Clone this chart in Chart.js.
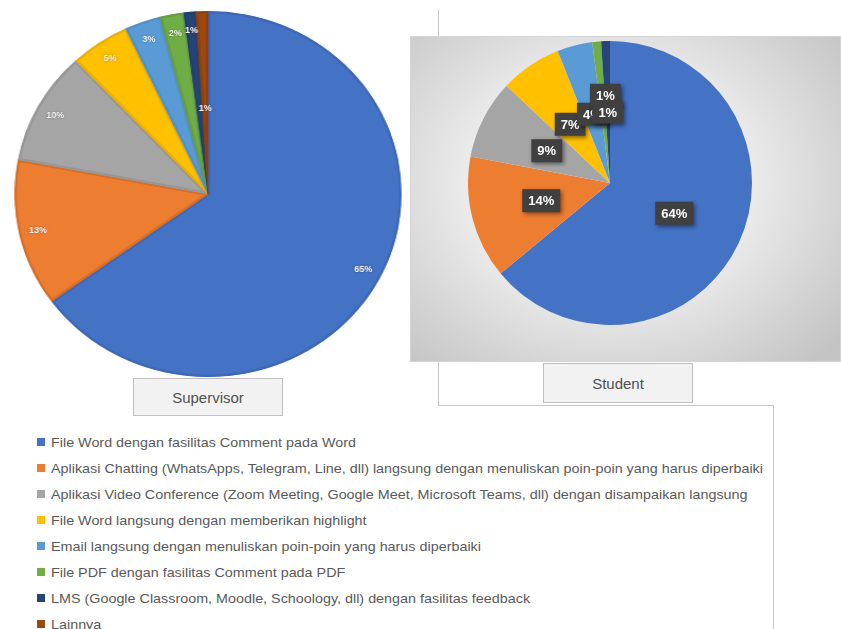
<!DOCTYPE html>
<html>
<head>
<meta charset="utf-8">
<script src="https://cdn.jsdelivr.net/npm/chart.js@4.4.0/dist/chart.umd.min.js"></script>
<style>
    body { margin: 0; width: 841px; height: 629px; background: #fff; position: relative; overflow: hidden;
           font-family: "Liberation Sans", Arial, sans-serif; }
    .abs { position: absolute; }
    .rule { position: absolute; background: #c8c8c8; }
    .caption { position: absolute; background: #f2f2f2; border: 1px solid #bfbfbf; box-sizing: border-box;
               color: #505050; font-size: 15px; display: flex; align-items: center; justify-content: center; }
    #student-frame { left: 410px; top: 36px; width: 431px; height: 326px; box-sizing: border-box;
                     border: 1px solid #d4d4d4;
                     background: radial-gradient(ellipse 70% 75% at 46% 45%, #ffffff 0%, #f4f4f4 35%, #c4c4c4 100%); }
    /* the supervisor pie is shown a little wider than tall */
    #supervisor-chart { transform: scaleX(1.058); transform-origin: center center; }
    #legend { left: 37px; top: 429px; }
    .item { height: 26px; display: flex; align-items: center; white-space: nowrap; }
    .swatch { width: 8px; height: 8px; margin-right: 6px; flex: none; }
    .txt { display: inline-block; transform-origin: left center; color: #595959;
           font-family: "Liberation Sans Narrow", "Liberation Sans", sans-serif; font-size: 13.5px; }
</style>
</head>
<body>
<div class="rule" style="left:438px;top:10px;width:1px;height:27px"></div>
<div class="rule" style="left:438px;top:362px;width:1px;height:43px"></div>
<div class="rule" style="left:438px;top:405px;width:336px;height:1px"></div>
<div class="rule" style="left:773px;top:405px;width:1px;height:224px"></div>

<div id="student-frame" class="abs"></div>

<canvas id="supervisor-chart" class="abs" width="366" height="366" style="left:25px;top:11px"></canvas>
<canvas id="student-chart" class="abs" width="284" height="284" style="left:468px;top:41px"></canvas>

<div class="caption" style="left:133px;top:378px;width:150px;height:38px">Supervisor</div>
<div class="caption" style="left:543px;top:363px;width:150px;height:40px">Student</div>

<div id="legend" class="abs"></div>

<script>
// Feedback channels (legend order = slice order, clockwise from 12 o'clock)
const categories = [
    'File Word dengan fasilitas Comment pada Word',
    'Aplikasi Chatting (WhatsApps, Telegram, Line, dll) langsung dengan menuliskan poin-poin yang harus diperbaiki',
    'Aplikasi Video Conference (Zoom Meeting, Google Meet, Microsoft Teams, dll) dengan disampaikan langsung',
    'File Word langsung dengan memberikan highlight',
    'Email langsung dengan menuliskan poin-poin yang harus diperbaiki',
    'File PDF dengan fasilitas Comment pada PDF',
    'LMS (Google Classroom, Moodle, Schoology, dll) dengan fasilitas feedback',
    'Lainnya'
];

// Percent shares
const supervisorValues = [65, 13, 10, 5, 3, 2, 1, 1];
const studentValues = [64, 14, 9, 7, 4, 1, 1, 0];

const sliceColors = ['#4472c4', '#ed7d31', '#a5a5a5', '#ffc000', '#5b9bd5', '#70ad47', '#264478', '#9e480e'];
const sliceEdges = ['#3e68b3', '#d86e27', '#979797', '#e9af06', '#5290c8', '#669e40', '#22406f', '#8e400c'];

// Draws "NN%" on each slice; radius is a fraction of the outer radius
const sliceLabels = {
    id: 'sliceLabels',
    afterDatasetsDraw(chart, args, opts) {
        const ctx = chart.ctx;
        const meta = chart.getDatasetMeta(0);
        const values = chart.data.datasets[0].data;
        const total = values.reduce((a, b) => a + b, 0);
        ctx.save();
        meta.data.forEach((arc, i) => {
            if (!values[i]) return;
            const p = arc.getProps(['x', 'y', 'startAngle', 'endAngle', 'outerRadius'], true);
            const mid = (p.startAngle + p.endAngle) / 2;
            const f = (opts.radiusAt && opts.radiusAt[i] != null) ? opts.radiusAt[i] : opts.radius;
            const shift = (opts.nudge && opts.nudge[i]) || [0, 0];
            const x = p.x + Math.cos(mid) * p.outerRadius * f + shift[0];
            const y = p.y + Math.sin(mid) * p.outerRadius * f + shift[1];
            const text = Math.round(values[i] / total * 100) + '%';
            ctx.font = opts.font;
            ctx.textAlign = 'center';
            ctx.textBaseline = 'middle';
            if (opts.boxed) {
                const w = ctx.measureText(text).width + 12;
                const h = 23;
                ctx.save();
                ctx.shadowColor = 'rgba(0,0,0,0.45)';
                ctx.shadowBlur = 4;
                ctx.shadowOffsetX = 2;
                ctx.shadowOffsetY = 2;
                ctx.fillStyle = '#404040';
                ctx.fillRect(x - w / 2, y - h / 2, w, h);
                ctx.restore();
            } else {
                ctx.shadowColor = 'rgba(0,0,0,0.5)';
                ctx.shadowBlur = 1.5;
            }
            ctx.fillStyle = '#ffffff';
            ctx.fillText(text, x, y + 1);
        });
        ctx.restore();
    }
};

function buildPie(canvasId, values, dsStyle, labelOpts) {
    return new Chart(document.getElementById(canvasId), {
        type: 'pie',
        data: {
            labels: categories,
            datasets: [Object.assign({ data: values, backgroundColor: sliceColors }, dsStyle)]
        },
        options: {
            responsive: false,
            animation: false,
            layout: { padding: 0 },
            plugins: {
                legend: { display: false },
                tooltip: { enabled: false },
                sliceLabels: labelOpts
            }
        },
        plugins: [sliceLabels]
    });
}

buildPie('supervisor-chart', supervisorValues,
    { borderColor: sliceEdges, borderWidth: 2, borderAlign: 'inner' },
    { radius: 0.9, radiusAt: { 7: 0.47 }, font: 'bold 8.5px "Liberation Sans", sans-serif' });

buildPie('student-chart', studentValues,
    { borderWidth: 0 },
    { radius: 0.5, boxed: true, nudge: { 5: [2, -17] }, font: 'bold 13px "Liberation Sans", sans-serif' });

// Shared legend below both pies
const legendEl = document.getElementById('legend');
categories.forEach((name, i) => {
    const row = document.createElement('div');
    row.className = 'item';
    row.innerHTML = '<span class="swatch" style="background:' + sliceColors[i] + '"></span><span class="txt"></span>';
    row.querySelector('.txt').textContent = name;
    legendEl.appendChild(row);
});
// stretch entries so the longest one spans the frame
const spans = [...legendEl.querySelectorAll('.txt')];
const widest = Math.max(...spans.map(s => s.getBoundingClientRect().width));
const k = 712 / widest;
spans.forEach(s => { s.style.transform = 'scaleX(' + k + ')'; });
</script>
</body>
</html>
